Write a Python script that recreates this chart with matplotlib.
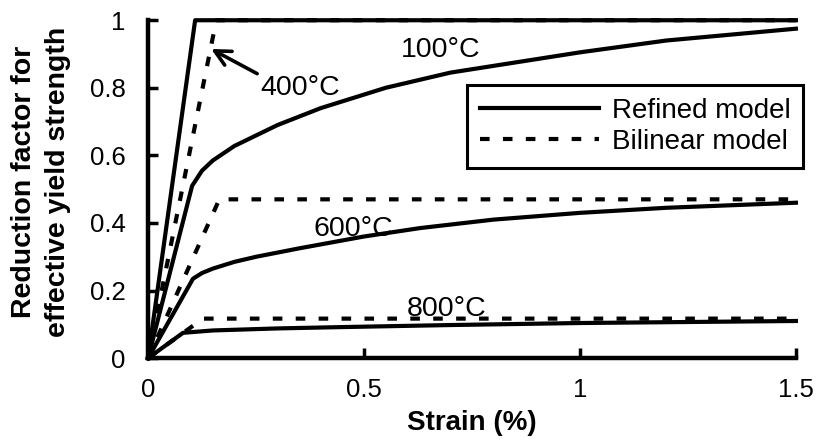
import matplotlib
matplotlib.use("Agg")
import matplotlib.pyplot as plt

plt.rcParams["font.family"] = ["Liberation Sans", "DejaVu Sans"]

# ---------------------------------------------------------------- data
# refined (continuous) stress-strain reduction curves
refined_100_strain = [0, 0.102, 0.125, 0.15, 0.2, 0.3, 0.4, 0.55, 0.7, 0.85, 1.0, 1.2, 1.5]
refined_100 = [0, 0.51, 0.555, 0.585, 0.628, 0.69, 0.74, 0.80, 0.845, 0.875, 0.905, 0.94, 0.975]

refined_600_strain = [0, 0.104, 0.125, 0.15, 0.2, 0.25, 0.35, 0.5, 0.63, 0.8, 1.0, 1.2, 1.5]
refined_600 = [0, 0.235, 0.252, 0.265, 0.285, 0.30, 0.325, 0.36, 0.385, 0.41, 0.43, 0.445, 0.46]

refined_800_strain = [0, 0.081, 0.15, 0.3, 0.45, 0.7, 1.0, 1.5]
refined_800 = [0, 0.075, 0.082, 0.088, 0.092, 0.098, 0.104, 0.11]

# elastic-perfectly-plastic line drawn solid at full strength
full_strain = [0, 0.109, 1.5]
full_factor = [0, 1.0, 1.0]

# bilinear model
bilinear_400_strain = [0, 0.158, 1.5]
bilinear_400 = [0, 1.0, 1.0]
bilinear_600_strain = [0, 0.165, 1.5]
bilinear_600 = [0, 0.47, 0.47]
bilinear_800_strain = [0, 0.127, 1.5]
bilinear_800 = [0, 0.117, 0.117]

x_ticks = [0, 0.5, 1, 1.5]
x_ticklabels = ["0", "0.5", "1", "1.5"]
y_ticks = [0, 0.2, 0.4, 0.6, 0.8, 1]
y_ticklabels = ["0", "0.2", "0.4", "0.6", "0.8", "1"]

# ---------------------------------------------------------------- figure
fig = plt.figure(figsize=(8.18, 4.40), dpi=100)
ax = fig.add_axes([0.181, 0.186, 0.792, 0.768])

LW = 3.0
DASH = (0, (2.3, 3.2))
LABEL_FS = 20.5

ax.plot(full_strain, full_factor, color="black", lw=LW, clip_on=False,
        label="Refined model")
ax.plot(refined_100_strain, refined_100, color="black", lw=LW, clip_on=False)
ax.plot(refined_600_strain, refined_600, color="black", lw=LW, clip_on=False)
ax.plot(refined_800_strain, refined_800, color="black", lw=LW, clip_on=False)

ax.plot(bilinear_400_strain, bilinear_400, color="black", lw=LW, ls=DASH,
        clip_on=False, label="Bilinear model")
ax.plot(bilinear_600_strain, bilinear_600, color="black", lw=LW, ls=DASH, clip_on=False)
ax.plot(bilinear_800_strain, bilinear_800, color="black", lw=LW, ls=DASH, clip_on=False)

# temperature labels
ax.text(0.586, 0.912, "100°C", fontsize=LABEL_FS, va="center", ha="left")
ax.text(0.382, 0.382, "600°C", fontsize=LABEL_FS, va="center", ha="left")
ax.text(0.600, 0.145, "800°C", fontsize=LABEL_FS, va="center", ha="left")
ax.annotate("400°C", xy=(0.146, 0.915), xytext=(0.259, 0.799),
            fontsize=LABEL_FS, va="center", ha="left",
            arrowprops=dict(arrowstyle="->", lw=2.6, color="black",
                            mutation_scale=28, shrinkA=0, shrinkB=0,
                            relpos=(0.0, 1.0)))

ax.set_xlim(0, 1.5)
ax.set_ylim(0, 1)
ax.set_xticks(x_ticks)
ax.set_xticklabels(x_ticklabels)
ax.set_yticks(y_ticks)
ax.set_yticklabels(y_ticklabels)
ax.tick_params(direction="in", length=7, width=2.5, labelsize=18.5)
ax.tick_params(axis="y", pad=16)
ax.tick_params(axis="x", pad=14)

for side in ("top", "right"):
    ax.spines[side].set_visible(False)
for side in ("left", "bottom"):
    ax.spines[side].set_linewidth(3.2)

ax.set_xlabel("Strain (%)", fontsize=20, fontweight="bold", labelpad=6)
fig.text(0.05, 0.587, "Reduction factor for\neffective yield strength",
         fontsize=20.5, fontweight="bold", rotation=90, ha="center", va="center",
         multialignment="center", linespacing=1.4)

leg = ax.legend(loc="upper right", bbox_to_anchor=(803 / 818, 1 - 85 / 440),
                bbox_transform=fig.transFigure, fontsize=20, frameon=True,
                fancybox=False, edgecolor="black", framealpha=1,
                handlelength=4.3, handletextpad=0.45, borderpad=0.45,
                labelspacing=0.2, borderaxespad=0)
leg.get_frame().set_linewidth(2.2)

fig.savefig("out.png", dpi=100, facecolor="white")
